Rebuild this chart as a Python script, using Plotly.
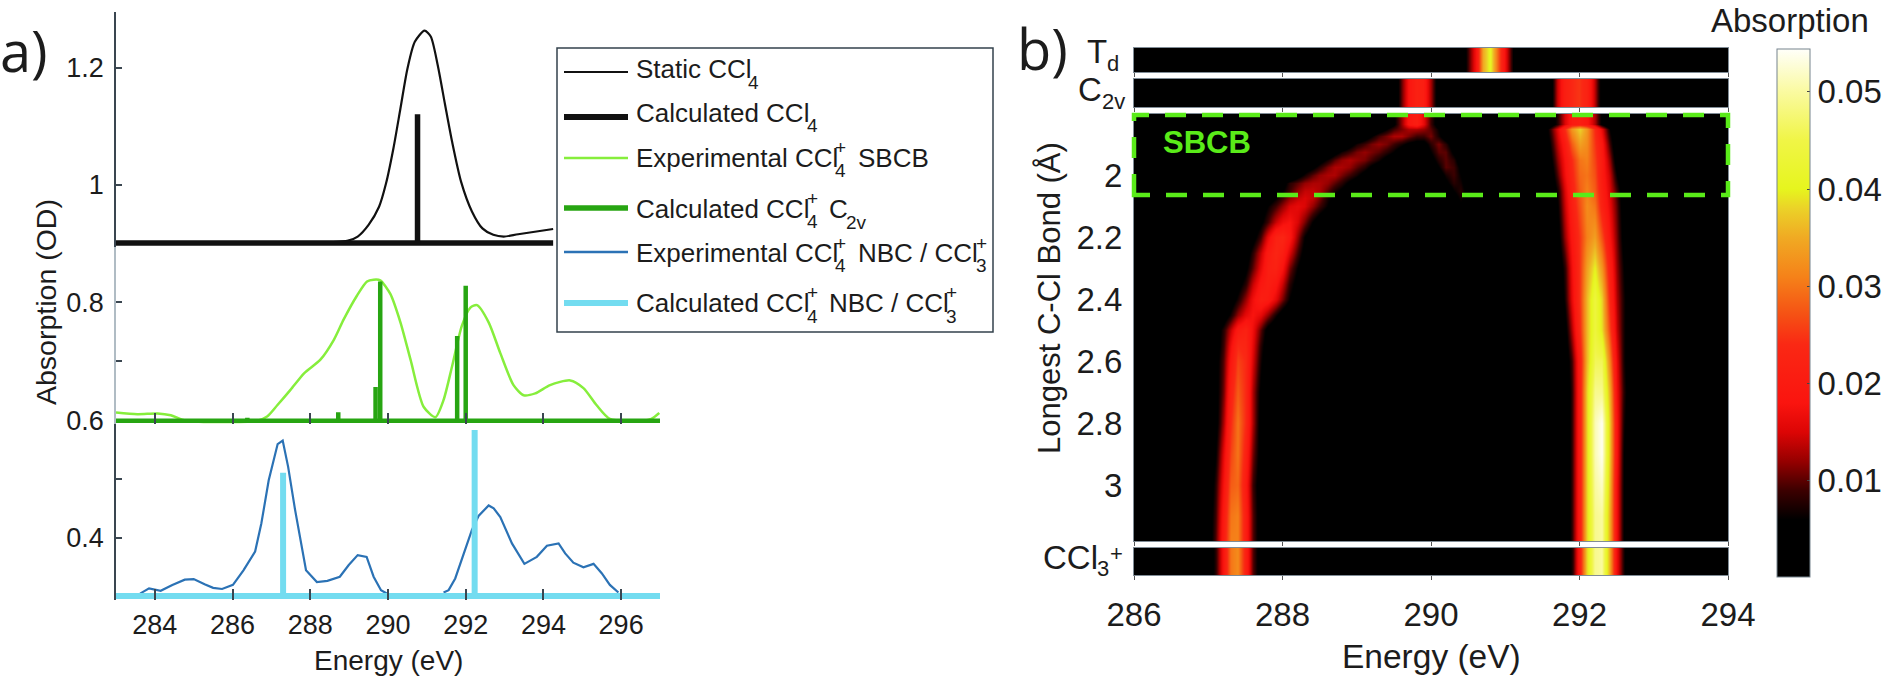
import numpy as np
import plotly.graph_objects as go

W, H = 1890, 680
FONT = "Liberation Sans"
TXT = "#1c1c1c"

# panel a, energies in eV and absorption in OD
static_e = [283, 288.95, 289.22, 289.5, 289.77, 289.95, 290.14, 290.32, 290.5, 290.69, 290.94, 291.1, 291.28,
            291.47, 291.65, 291.88, 292.16, 292.43, 292.71, 292.98, 293.35, 294.25]
static_od = [0.9, 0.9036, 0.911, 0.931, 0.962, 1.002, 1.062, 1.13, 1.198, 1.244, 1.263, 1.253, 1.204,
             1.136, 1.073, 1.005, 0.954, 0.925, 0.914, 0.911, 0.915, 0.924]
calc_ccl4_e = [290.76]
calc_ccl4_od = [1.12]

sbcb_e = [283, 283.55, 284.07, 284.41, 284.8, 286.64, 286.89, 287.15, 287.49, 287.84, 288.26, 288.61, 288.86,
          289.2, 289.46, 289.63, 289.8, 290.06, 290.32, 290.58, 290.92, 291.22, 291.43, 291.65, 291.9, 292.12,
          292.29, 292.59, 292.89, 293.23, 293.49, 293.79, 294.17, 294.69, 295.03, 295.37, 295.71, 296.57,
          296.78, 296.98]
sbcb_od = [0.614, 0.611, 0.612, 0.609, 0.6, 0.6, 0.607, 0.626, 0.652, 0.68, 0.703, 0.737, 0.771,
           0.811, 0.835, 0.838, 0.837, 0.814, 0.766, 0.703, 0.623, 0.606, 0.635, 0.692, 0.76, 0.791,
           0.795, 0.766, 0.714, 0.66, 0.643, 0.646, 0.66, 0.668, 0.655, 0.626, 0.603, 0.6,
           0.603, 0.613]
calc_c2v_e = [286.38, 288.72, 289.68, 289.8, 291.78, 292.0]
calc_c2v_od = [0.605, 0.614, 0.657, 0.835, 0.743, 0.828]

nbc_e = [283.62, 283.85, 284.15, 284.45, 284.77, 285.0, 285.28, 285.5, 285.73, 286.01, 286.28, 286.58, 286.74,
         286.93, 287.16, 287.29, 287.43, 287.61, 287.89, 288.17, 288.44, 288.76, 288.99, 289.22, 289.45, 289.63,
         289.82, 289.98, None, 291.43, 291.56, 291.73, 291.95, 292.16, 292.33, 292.59, 292.72, 292.89, 293.19,
         293.51, 293.83, 294.09, 294.39, 294.56, 294.77, 295.03, 295.29, 295.5, 295.71, 295.93]
nbc_od = [0.304, 0.313, 0.309, 0.319, 0.328, 0.329, 0.32, 0.314, 0.312, 0.319, 0.344, 0.376, 0.424,
          0.498, 0.56, 0.566, 0.521, 0.447, 0.344, 0.324, 0.326, 0.333, 0.353, 0.37, 0.367, 0.333,
          0.31, 0.304, None, 0.306, 0.31, 0.33, 0.373, 0.413, 0.437, 0.455, 0.45, 0.435, 0.39,
          0.355, 0.367, 0.386, 0.39, 0.373, 0.357, 0.349, 0.355, 0.339, 0.319, 0.306]
calc_nbc_e = [287.3, 292.23]
calc_nbc_od = [0.511, 0.584]

a_xticks = [284, 286, 288, 290, 292, 294, 296]

# panel b, z in units of 0.001 absorption
left_e = [287.0, 287.1, 287.2, 287.3, 287.4, 287.5, 287.6, 287.7, 287.8, 287.9,
          288.0, 288.1, 288.2, 288.3, 288.4, 288.5, 288.6, 288.7, 288.8, 288.9,
          289.0, 289.1, 289.2, 289.3, 289.4, 289.5, 289.6, 289.7, 289.8, 289.9,
          290.0, 290.1, 290.2, 290.3, 290.4, 290.5, 290.6]
left_bond = [1.8, 1.835, 1.85, 1.875, 1.9, 1.925, 1.95, 1.975, 2.0, 2.025, 2.05, 2.075, 2.1, 2.15, 2.2, 2.25,
             2.3, 2.35, 2.4, 2.45, 2.5, 2.55, 2.6, 2.7, 2.8, 2.9, 3.0, 3.1, 3.2]
left_z = [
    [0,0,0,0,0,0,0,0,0,0, 0,0,0,0,0,0,0,0,0,0, 0,0,0,0,2,5,12,19,21,16, 9,3,1,0,0,0,0],
    [0,0,0,0,0,0,0,0,0,0, 0,0,0,0,0,0,0,0,0,0, 0,0,0,0,2,5,12,19,21,16, 9,3,1,0,0,0,0],
    [0,0,0,0,0,0,0,0,0,0, 0,0,0,0,0,0,0,0,0,0, 0,0,0,3,6,9,11,13,13,12, 10,6,2,0,0,0,0],
    [0,0,0,0,0,0,0,0,0,0, 0,0,0,0,0,0,0,0,0,0, 0,3,6,9,11,13,13,11,9,9, 11,7,3,0,0,0,0],
    [0,0,0,0,0,0,0,0,0,0, 0,0,0,0,0,0,0,0,0,4, 7,9,11,12,11,9,7,5,4,4, 8,11,8,3,0,0,0],
    [0,0,0,0,0,0,0,0,0,0, 0,0,0,0,0,0,0,4,7,9, 11,12,11,10,8,6,3,1,0,2, 6,10,10,5,1,0,0],
    [0,0,0,0,0,0,0,0,0,0, 0,0,0,0,0,4,7,10,12,13, 12,11,9,7,4,2,0,0,0,0, 4,8,10,8,3,0,0],
    [0,0,0,0,0,0,0,0,0,0, 0,0,0,3,5,8,11,13,13,12, 10,8,5,3,1,0,0,0,0,0, 2,6,10,9,5,1,0],
    [0,0,0,0,0,0,0,0,0,0, 0,0,4,7,10,12,13,13,11,9, 7,4,2,0,0,0,0,0,0,0, 0,3,7,9,6,2,0],
    [0,0,0,0,0,0,0,0,0,0, 4,8,10,12,13,13,12,10,8,5, 3,1,0,0,0,0,0,0,0,0, 0,1,5,8,7,3,0],
    [0,0,0,0,0,0,0,0,0,4, 6,9,12,14,14,13,10,7,5,3, 1,0,0,0,0,0,0,0,0,0, 0,0,2,6,8,4,1],
    [0,0,0,0,0,0,0,0,3,6, 9,12,14,15,14,11,7,5,3,1, 0,0,0,0,0,0,0,0,0,0, 0,0,0,4,7,3,0],
    [0,0,0,0,0,0,0,3,6,9, 12,15,16,15,12,9,6,3,1,0, 0,0,0,0,0,0,0,0,0,0, 0,0,0,2,5,2,0],
    [0,0,0,0,0,0,2,5,9,14, 17,18,15,11,6,3,1,0,0,0, 0,0,0,0,0,0,0,0,0,0, 0,0,0,0,1,0,0],
    [0,0,0,0,0,1,4,9,16,22, 23,19,12,6,2,1,0,0,0,0, 0,0,0,0,0,0,0,0,0,0, 0,0,0,0,0,0,0],
    [0,0,0,0,0,3,8,14,20,23, 21,15,9,4,2,0,0,0,0,0, 0,0,0,0,0,0,0,0,0,0, 0,0,0,0,0,0,0],
    [0,0,0,0,2,5,10,16,21,22, 18,11,6,2,1,0,0,0,0,0, 0,0,0,0,0,0,0,0,0,0, 0,0,0,0,0,0,0],
    [0,0,0,2,4,8,14,19,21,19, 14,8,4,2,0,0,0,0,0,0, 0,0,0,0,0,0,0,0,0,0, 0,0,0,0,0,0,0],
    [0,0,1,3,7,12,17,21,20,16, 11,6,3,1,0,0,0,0,0,0, 0,0,0,0,0,0,0,0,0,0, 0,0,0,0,0,0,0],
    [0,1,3,7,12,16,18,16,12,7, 3,1,0,0,0,0,0,0,0,0, 0,0,0,0,0,0,0,0,0,0, 0,0,0,0,0,0,0],
    [0,3,8,14,20,22,17,10,4,1, 0,0,0,0,0,0,0,0,0,0, 0,0,0,0,0,0,0,0,0,0, 0,0,0,0,0,0,0],
    [0,3,9,17,24,23,16,8,3,1, 0,0,0,0,0,0,0,0,0,0, 0,0,0,0,0,0,0,0,0,0, 0,0,0,0,0,0,0],
    [1,4,10,19,26,24,15,7,2,0, 0,0,0,0,0,0,0,0,0,0, 0,0,0,0,0,0,0,0,0,0, 0,0,0,0,0,0,0],
    [1,4,11,22,28,24,13,5,1,0, 0,0,0,0,0,0,0,0,0,0, 0,0,0,0,0,0,0,0,0,0, 0,0,0,0,0,0,0],
    [1,4,13,24,30,24,13,4,1,0, 0,0,0,0,0,0,0,0,0,0, 0,0,0,0,0,0,0,0,0,0, 0,0,0,0,0,0,0],
    [2,6,16,26,30,22,11,4,1,0, 0,0,0,0,0,0,0,0,0,0, 0,0,0,0,0,0,0,0,0,0, 0,0,0,0,0,0,0],
    [2,8,18,28,29,20,9,3,1,0, 0,0,0,0,0,0,0,0,0,0, 0,0,0,0,0,0,0,0,0,0, 0,0,0,0,0,0,0],
    [3,9,20,30,31,21,10,3,1,0, 0,0,0,0,0,0,0,0,0,0, 0,0,0,0,0,0,0,0,0,0, 0,0,0,0,0,0,0],
    [3,10,21,31,31,21,10,3,1,0, 0,0,0,0,0,0,0,0,0,0, 0,0,0,0,0,0,0,0,0,0, 0,0,0,0,0,0,0],
]

right_e = [291.5, 291.6, 291.7, 291.8, 291.9, 292.0, 292.1, 292.2, 292.3, 292.4, 292.5, 292.6, 292.7, 292.8]
right_bond = [1.8, 1.835, 1.85, 1.9, 1.95, 2.0, 2.05, 2.1, 2.2, 2.3, 2.4, 2.5, 2.6, 2.7, 2.8, 2.9, 3.0, 3.1, 3.2]
right_z = [
    [0,2,8,15,20,21,19,13,5,0,0,0,0,0],
    [0,2,8,15,20,21,19,13,5,0,0,0,0,0],
    [1,8,16,24,33,38,33,24,16,6,1,0,0,0],
    [1,6,14,20,28,34,32,25,19,9,1,0,0,0],
    [0,4,12,18,24,30,31,26,20,12,3,0,0,0],
    [0,2,10,17,23,29,30,27,20,14,6,1,0,0],
    [0,1,7,15,22,28,31,28,21,15,9,2,0,0],
    [0,0,6,14,21,27,32,30,22,16,10,3,0,0],
    [0,0,4,12,19,25,31,34,27,18,11,4,0,0],
    [0,0,2,8,17,25,34,40,33,21,12,6,1,0],
    [0,0,1,7,16,25,36,44,38,23,13,7,1,0],
    [0,0,0,4,13,24,36,44,39,26,14,7,1,0],
    [0,0,0,2,9,21,36,46,46,31,16,7,1,0],
    [0,0,0,1,8,21,38,49,49,35,17,8,1,0],
    [0,0,0,1,8,21,38,51,54,37,18,7,1,0],
    [0,0,0,1,8,21,38,51,54,37,18,6,1,0],
    [0,0,0,1,8,21,38,50,52,36,17,6,1,0],
    [0,0,0,1,8,21,38,49,50,35,17,6,1,0],
    [0,0,0,1,8,21,38,49,50,35,17,6,1,0],
]

td_e = [290.4, 290.5, 290.6, 290.7, 290.8, 290.9, 291.0, 291.1, 291.2]
td_z = [0, 9, 18, 35, 41, 28, 17, 6, 0]
c2v_e = [289.5, 289.6, 289.7, 289.8, 289.9, 290.0, 290.1, 290.2, 291.5, 291.6, 291.7, 291.8, 291.9, 292.0, 292.1,
         292.2, 292.3, 292.4]
c2v_z = [1, 10, 19, 22, 21, 12, 3, 0, 0, 3, 14, 21, 24, 25, 22, 14, 3, 0]
ccl3_e = [287.0, 287.1, 287.2, 287.3, 287.4, 287.5, 287.6, 287.7, 287.8, 291.7, 291.8, 291.9, 292.0, 292.1, 292.2,
          292.3, 292.4, 292.5, 292.6, 292.7, 292.8]
ccl3_z = [2, 8, 19, 30, 32, 22, 10, 3, 0, 0, 1, 8, 21, 38, 49, 50, 35, 17, 6, 1, 0]

b_xticks = [286, 288, 290, 292, 294]
b_yticks = [2, 2.2, 2.4, 2.6, 2.8, 3]
cbar_ticks = [0.01, 0.02, 0.03, 0.04, 0.05]
Z_MIN, Z_MAX = 0.0001, 0.0544

hot = [(0.0, "#000000"), (6, "#000000"), (9, "#3c0000"), (12, "#960000"), (15, "#dc0505"), (18, "#fa140f"),
       (24, "#fa2814"), (27, "#f55014"), (31, "#f58219"), (35, "#f0aa23"), (38, "#ebd228"), (40, "#e6f51e"),
       (45, "#f0f546"), (50, "#fafaa0"), (54.4, "#fffffa")]
colorscale = [[max(0, (v / 1000 - Z_MIN) / (Z_MAX - Z_MIN)), c] for v, c in hot]


def px(x):
    return x / W


def py(y):
    return 1 - y / H


def sticks(e, od, base, right=297):
    xs, ys = [283, right], [base, base]
    for a, b in zip(e, od):
        xs += [None, a, a]
        ys += [None, base, b]
    return xs, ys


def line(fig, x, y, color, width, ya, shape="linear"):
    fig.add_trace(go.Scatter(x=x, y=y, mode="lines", line=dict(color=color, width=width, shape=shape, smoothing=0.7),
                             hoverinfo="skip", showlegend=False, xaxis=ya.replace("y", "x"), yaxis=ya))


def heat(fig, x, y, z, ya):
    fig.add_trace(go.Heatmap(x=x, y=y, z=np.array(z) / 1000, zsmooth="best", coloraxis="coloraxis",
                             hoverinfo="skip", xaxis=ya.replace("y", "x"), yaxis=ya))


fig = go.Figure()

# panel a
line(fig, nbc_e, nbc_od, "#2b72b5", 2.2, "y")
x, y = sticks(calc_nbc_e, calc_nbc_od, 0.3)
line(fig, x, y, "#73dcf0", 6, "y")
line(fig, sbcb_e, sbcb_od, "#86ee3c", 2.5, "y2", "spline")
x, y = sticks(calc_c2v_e, calc_c2v_od, 0.6)
line(fig, x, y, "#27a512", 4.5, "y2")
line(fig, static_e, static_od, "#111111", 2.2, "y3", "spline")
x, y = sticks(calc_ccl4_e, calc_ccl4_od, 0.9, right=294.25)
line(fig, x, y, "#111111", 5.5, "y3")

# panel b
heat(fig, td_e, [0, 1], [td_z, td_z], "y4")
heat(fig, c2v_e, [0, 1], [c2v_z, c2v_z], "y5")
heat(fig, left_e, left_bond, left_z, "y6")
heat(fig, right_e, right_bond, right_z, "y6")
heat(fig, ccl3_e, [0, 1], [ccl3_z, ccl3_z], "y7")

tick_font = dict(family=FONT, size=27, color=TXT)
b_font = dict(family=FONT, size=33, color=TXT)
AX_A = "#3a4650"
AX_B = "#808c96"

a_x = dict(range=[283, 297], domain=[px(116), px(660)], showgrid=False, zeroline=False, showline=False,
           ticks="inside", ticklen=11, tickwidth=1.5, tickcolor=AX_A, tickvals=a_xticks)
a_y = dict(domain=None, showgrid=False, zeroline=False, showline=True, linecolor=AX_A, linewidth=1.5,
           ticks="inside", ticklen=6, tickwidth=1.5, tickcolor=AX_A, tickfont=tick_font, ticklabelstandoff=5)
b_x = dict(range=[286, 294], domain=[px(1134), px(1728)], showgrid=False, zeroline=False, showline=True, mirror=True,
           linecolor=AX_B, linewidth=1, ticks="outside", ticklen=4, tickcolor="#555555", tickvals=b_xticks,
           showticklabels=False)
b_y = dict(showgrid=False, zeroline=False, showline=True, mirror=True, linecolor=AX_B, linewidth=1, ticks="",
           showticklabels=False)

# lines are clipped to their subplot, so each range reaches a little under its baseline
PAD = 0.006
PAD_PX = PAD * 585.5

fig.update_layout(
    width=W, height=H, margin=dict(l=0, r=0, t=0, b=0, autoexpand=False), paper_bgcolor="white",
    plot_bgcolor="rgba(0,0,0,0)",
    font=dict(family=FONT, color=TXT), showlegend=False,
    xaxis={**a_x, "anchor": "y", "tickfont": tick_font, "ticklabelstandoff": 6},
    xaxis2={**a_x, "anchor": "y2", "showticklabels": False},
    xaxis3={**a_x, "anchor": "y3", "showticklabels": False, "ticks": ""},
    yaxis={**a_y, "domain": [py(596 + PAD_PX), py(420.7)], "range": [0.3 - PAD, 0.6], "anchor": "x",
           "tickvals": [0.4, 0.5, 0.6], "ticktext": ["0.4", "", "0.6"]},
    yaxis2={**a_y, "domain": [py(420.7 + PAD_PX), py(243)], "range": [0.6 - PAD, 0.9], "anchor": "x2",
            "linecolor": "#b0bcc4", "tickvals": [0.7, 0.8], "ticktext": ["", "0.8"]},
    yaxis3={**a_y, "domain": [py(243 + PAD_PX), py(12)], "range": [0.9 - PAD, 1.295], "anchor": "x3",
            "tickvals": [1, 1.2], "ticktext": ["1", "1.2"]},
    xaxis4={**b_x, "anchor": "y4"},
    xaxis5={**b_x, "anchor": "y5"},
    xaxis6={**b_x, "anchor": "y6"},
    xaxis7={**b_x, "anchor": "y7", "showticklabels": True, "tickfont": b_font, "ticklabelstandoff": 6},
    yaxis4={**b_y, "domain": [py(72), py(48)], "range": [0, 1], "anchor": "x4"},
    yaxis5={**b_y, "domain": [py(107), py(79)], "range": [0, 1], "anchor": "x5"},
    yaxis6={**b_y, "domain": [py(541), py(114)], "range": [3.18, 1.803], "anchor": "x6", "showticklabels": True,
            "tickvals": b_yticks, "ticktext": ["2", "2.2", "2.4", "2.6", "2.8", "3"], "tickfont": b_font,
            "ticklabelstandoff": 4},
    yaxis7={**b_y, "domain": [py(575), py(548)], "range": [0, 1], "anchor": "x7"},
    coloraxis=dict(cmin=Z_MIN, cmax=Z_MAX, colorscale=colorscale, colorbar=dict(
        x=px(1777), xanchor="left", xpad=0, y=py(313), yanchor="middle", ypad=0, thicknessmode="pixels", thickness=33,
        lenmode="pixels", len=528, outlinecolor="#77848e", outlinewidth=1, ticks="inside", ticklen=3,
        tickcolor="#444444", tickvals=cbar_ticks, ticktext=["0.01", "0.02", "0.03", "0.04", "0.05"],
        tickfont=b_font)),
)

shapes = []
for n in (4, 5, 6, 7):
    shapes.append(dict(type="rect", xref=f"x{n} domain", yref=f"y{n} domain", x0=0, x1=1, y0=0, y1=1,
                       fillcolor="black", line_width=0, layer="below"))

# legend box sits on top of panel a
shapes.append(dict(type="rect", xref="paper", yref="paper", x0=px(557), x1=px(993), y0=py(332), y1=py(48),
                   fillcolor="white", line=dict(color="#33414c", width=1.5), layer="above"))
legend_samples = [(72, "#111111", 2.2), (117, "#111111", 6), (158, "#86ee3c", 2.5), (208, "#27a512", 5.5),
                  (252, "#2b72b5", 2.5), (303, "#73dcf0", 6)]
for yy, c, w in legend_samples:
    shapes.append(dict(type="line", xref="paper", yref="paper", x0=px(564), x1=px(628), y0=py(yy), y1=py(yy),
                       line=dict(color=c, width=w), layer="above"))

# SBCB box, drawn from the lower left corner and clockwise so the dashes land like the original
shapes.append(dict(type="path", xref="paper", yref="paper", layer="above",
                   path=f"M {px(1134)} {py(195)} L {px(1134)} {py(115)} L {px(1728)} {py(115)} L {px(1728)} {py(195)} Z",
                   line=dict(color="#5aeb19", width=4.5, dash="21px,16px")))

anns = []


def txt(x, y, s, size=26, anchor="left", color=TXT, angle=0, family=FONT):
    anns.append(dict(x=px(x), y=py(y), xref="paper", yref="paper", text=s, showarrow=False, xanchor=anchor,
                     yanchor="middle", textangle=angle, font=dict(family=family, size=size, color=color)))


SUB = 19
txt(634, 69, "Static CCl")
txt(753, 82, "4", SUB, "center")
txt(634, 113, "Calculated CCl")
txt(812, 125, "4", SUB, "center")
txt(634, 158, "Experimental CCl")
txt(840, 170, "4", SUB, "center")
txt(840, 147, "+", SUB, "center")
txt(856, 158, "SBCB")
txt(634, 209, "Calculated CCl")
txt(812, 222, "4", SUB, "center")
txt(812, 198, "+", SUB, "center")
txt(827, 209, "C")
txt(856, 223, "2v", SUB, "center")
txt(634, 253, "Experimental CCl")
txt(840, 266, "4", SUB, "center")
txt(840, 243, "+", SUB, "center")
txt(856, 253, "NBC / CCl")
txt(981, 266, "3", SUB, "center")
txt(981, 243, "+", SUB, "center")
txt(634, 303, "Calculated CCl")
txt(812, 316, "4", SUB, "center")
txt(812, 292, "+", SUB, "center")
txt(827, 303, "NBC / CCl")
txt(952, 316, "3", SUB, "center")
txt(952, 292, "+", SUB, "center")

txt(24, 50, "a)", 56, "center", family="Open Sans")
txt(1042, 48, "b)", 56, "center", family="Open Sans")
txt(46, 302, "Absorption (OD)", 28.5, "center", angle=-90)
txt(388, 660, "Energy (eV)", 28, "center")
txt(1049, 298, "Longest C-Cl Bond (Å)", 31, "center", angle=-90)
txt(1431, 656, "Energy (eV)", 33.5, "center")
txt(1790, 20, "Absorption", 33, "center")
txt(1097, 52, "T", 33, "center")
txt(1113, 63, "d", 22, "center")
txt(1090, 90, "C", 33, "center")
txt(1113, 101, "2v", 22, "center")
txt(1070, 557, "CCl", 33, "center")
txt(1103, 568, "3", 22, "center")
txt(1116, 553, "+", 22, "center")
txt(1207, 142, "<b>SBCB</b>", 31, "center", color="#5aeb19")

fig.update_layout(shapes=shapes, annotations=anns)

# the browser's default body margin would push the figure off by 8px
fig.write_html("out.html", config={"displayModeBar": False}, post_script="document.body.style.margin = '0';")
